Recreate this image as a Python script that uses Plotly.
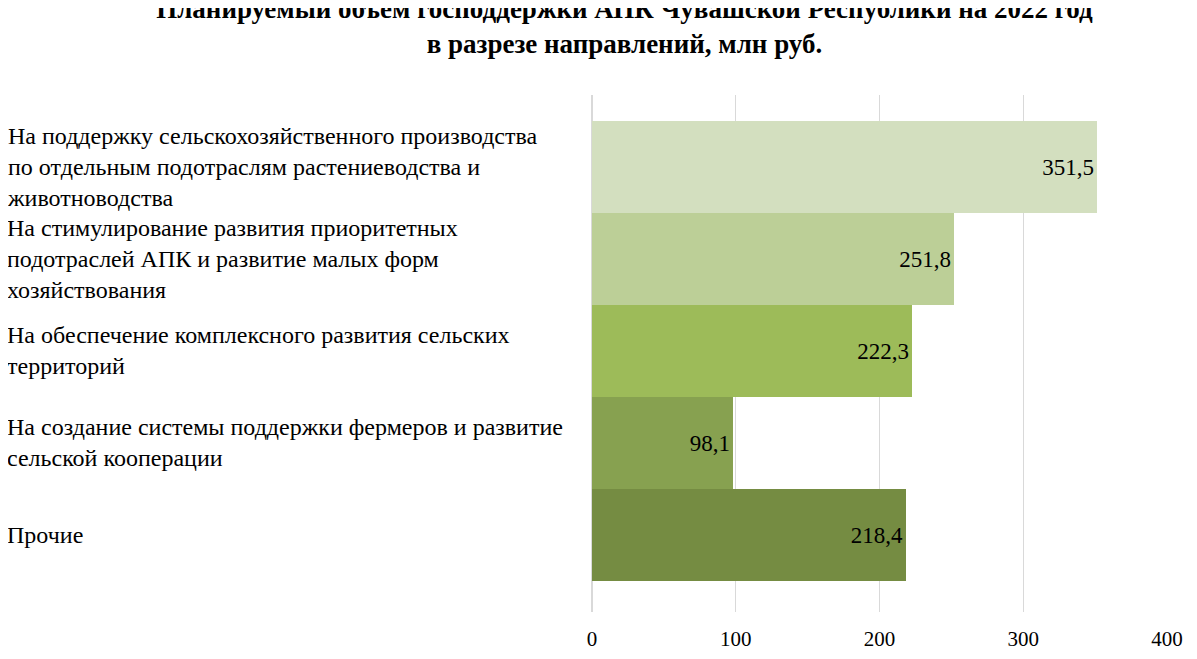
import plotly.graph_objects as go

categories = ["На поддержку сельскохозяйственного производства<br>по отдельным подотраслям растениеводства и<br>животноводства",
              "На стимулирование развития приоритетных<br>подотраслей АПК и развитие малых форм<br>хозяйствования",
              "На обеспечение комплексного развития сельских<br>территорий",
              "На создание системы поддержки фермеров и развитие<br>сельской кооперации",
              "Прочие"]
values = [351.5, 251.8, 222.3, 98.1, 218.4]
labels = ["351,5", "251,8", "222,3", "98,1", "218,4"]
colors = ["#d3dfbf", "#bccf97", "#9dbb59", "#87a150", "#758c42"]
font = "Liberation Serif"

fig = go.Figure(go.Bar(x=values, y=list(range(5)), orientation="h", marker_color=colors,
                       marker_line_width=0,
                       text=labels, textposition="inside", insidetextanchor="end",
                       textfont=dict(family=font, size=23, color="black"), width=1))
for i, c in enumerate(categories):
    fig.add_annotation(x=-1.021, xref="paper", y=i, yref="y", text=c, showarrow=False,
                       xanchor="left", align="left", font=dict(family=font, size=24, color="black"))
fig.update_layout(width=1197, height=659, plot_bgcolor="white", paper_bgcolor="white",
                  margin=dict(l=584, r=38, t=87, b=55), bargap=0, showlegend=False,
                  title=dict(text="<b>Планируемый объем господдержки АПК Чувашской Республики на 2022 год<br>в разрезе направлений, млн руб.</b>",
                             x=0.515, xanchor="center", y=0.985, yanchor="top",
                             font=dict(family=font, size=27, color="black")))
fig.update_xaxes(range=[0, 400], dtick=100, showgrid=True, gridcolor="#d9d9d9", zeroline=True,
                 zerolinecolor="#d9d9d9", tickfont=dict(family=font, size=21, color="black"), ticklabelstandoff=12)
fig.update_yaxes(range=[4.84, -0.78], showticklabels=False, showgrid=False, zeroline=False)
fig.write_html("out.html")
